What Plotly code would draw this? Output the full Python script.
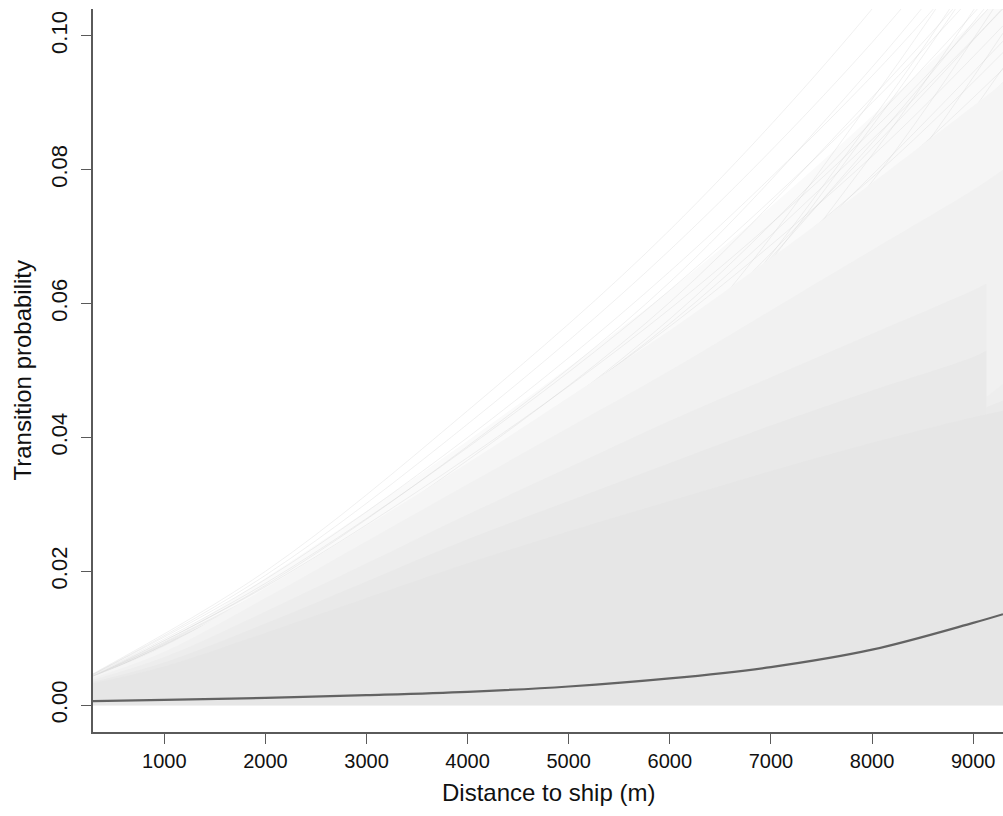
import plotly.graph_objects as go

# Distance grid (m) on which the bands and the mean curve are given
dist = [295, 1000, 2000, 3000, 4000, 5000, 6000, 7000, 8000, 9000, 9295]

# Mean transition probability
mean_prob = [0.0006, 0.0008, 0.0011, 0.0015, 0.0020, 0.0028, 0.0040, 0.0057, 0.0083, 0.0123, 0.0136]

# Envelopes of the posterior draws, from the widest (faintest) to the core
env_outer = [0.0045, 0.0095, 0.0190, 0.0290, 0.0395, 0.0505, 0.0620, 0.0745, 0.0880, 0.1020, 0.1060]
env_wide = [0.0043, 0.0088, 0.0175, 0.0268, 0.0362, 0.0460, 0.0560, 0.0668, 0.0780, 0.0895, 0.0930]
env_upper = [0.0041, 0.0080, 0.0160, 0.0245, 0.0330, 0.0415, 0.0500, 0.0590, 0.0680, 0.0770, 0.0800]
env_core = [0.0033, 0.0058, 0.0108, 0.0160, 0.0212, 0.0260, 0.0305, 0.0350, 0.0392, 0.0430, 0.0440]

# Part of the draws stops at 9130 m, so two inner envelopes step down there
dist_cut = [295, 1000, 2000, 3000, 4000, 5000, 6000, 7000, 8000, 9000, 9130]
env_mid = [0.0038, 0.0072, 0.0140, 0.0212, 0.0285, 0.0355, 0.0425, 0.0490, 0.0555, 0.0620, 0.0630]
env_inner = [0.0035, 0.0064, 0.0122, 0.0185, 0.0248, 0.0305, 0.0362, 0.0418, 0.0470, 0.0520, 0.0530]
dist_tail = [9130, 9295]
tail_mid = [0.0460, 0.0480]
tail_inner = [0.0445, 0.0455]

# Individual posterior draws above the dense core
draw_dist = [295, 2000, 4000, 6000, 8000, 9295]
draws = [
    [0.0047, 0.0200, 0.0440, 0.0710, 0.1040, 0.1300],
    [0.0046, 0.0194, 0.0420, 0.0680, 0.0990, 0.1230],
    [0.0046, 0.0188, 0.0400, 0.0648, 0.0940, 0.1160],
    [0.0045, 0.0182, 0.0385, 0.0620, 0.0900, 0.1110],
    [0.0044, 0.0177, 0.0370, 0.0592, 0.0858, 0.1065],
    [0.0043, 0.0172, 0.0357, 0.0566, 0.0820, 0.1015],
    [0.0043, 0.0166, 0.0343, 0.0545, 0.0788, 0.0975],
    [0.0042, 0.0160, 0.0328, 0.0520, 0.0752, 0.0930],
    [0.0041, 0.0155, 0.0314, 0.0498, 0.0720, 0.0892],
    [0.0040, 0.0150, 0.0302, 0.0478, 0.0690, 0.0855],
    [0.0040, 0.0146, 0.0292, 0.0462, 0.0665, 0.0822],
    [0.0039, 0.0142, 0.0282, 0.0447, 0.0642, 0.0792],
    [0.0038, 0.0122, 0.0282, 0.0522, 0.0905, 0.1190],
    [0.0037, 0.0113, 0.0262, 0.0492, 0.0865, 0.1145],
    [0.0036, 0.0106, 0.0242, 0.0458, 0.0822, 0.1105],
    [0.0036, 0.0101, 0.0226, 0.0432, 0.0782, 0.1062],
    [0.0035, 0.0098, 0.0216, 0.0408, 0.0732, 0.1004],
    [0.0035, 0.0095, 0.0206, 0.0387, 0.0692, 0.0952],
    [0.0034, 0.0092, 0.0199, 0.0372, 0.0656, 0.0902],
    [0.0040, 0.0161, 0.0347, 0.0577, 0.0872, 0.1082],
    [0.0041, 0.0168, 0.0366, 0.0602, 0.0908, 0.1124],
    [0.0043, 0.0179, 0.0387, 0.0632, 0.0953, 0.1192],
    [0.0039, 0.0141, 0.0311, 0.0532, 0.0832, 0.1042],
    [0.0038, 0.0136, 0.0296, 0.0507, 0.0792, 0.0992],
    [0.0042, 0.0170, 0.0352, 0.0570, 0.0845, 0.1040],
    [0.0041, 0.0164, 0.0336, 0.0534, 0.0770, 0.0950],
    [0.0037, 0.0128, 0.0288, 0.0515, 0.0840, 0.1075],
    [0.0036, 0.0118, 0.0272, 0.0500, 0.0875, 0.1160],
]

x_ticks = [1000, 2000, 3000, 4000, 5000, 6000, 7000, 8000, 9000]
y_ticks = [0.00, 0.02, 0.04, 0.06, 0.08, 0.10]

fig = go.Figure()


def band(x, y, color):
    fig.add_trace(go.Scatter(
        x=x, y=y, mode="lines", line=dict(width=0, shape="spline", smoothing=1.0),
        fill="tozeroy", fillcolor=color, hoverinfo="skip", showlegend=False))


band(dist, env_outer, "#FAFAFA")

for d in draws:
    fig.add_trace(go.Scatter(
        x=draw_dist, y=d, mode="lines",
        line=dict(color="rgba(205,205,205,0.3)", width=1, shape="spline", smoothing=1.0),
        hoverinfo="skip", showlegend=False))

band(dist, env_wide, "#F5F5F5")
band(dist, env_upper, "#F1F1F1")
band(dist_cut, env_mid, "#EDEDED")
band(dist_tail, tail_mid, "#EEEEEE")
band(dist_cut, env_inner, "#E9E9E9")
band(dist_tail, tail_inner, "#EAEAEA")
band(dist, env_core, "#E6E6E6")

fig.add_trace(go.Scatter(
    x=dist, y=mean_prob, mode="lines",
    line=dict(color="#636363", width=2.2, shape="spline", smoothing=1.0),
    hoverinfo="skip", showlegend=False))

axis_color = "#5a5a5a"
fig.update_layout(
    width=1003, height=816,
    margin=dict(l=93, r=0, t=9, b=84),
    paper_bgcolor="white", plot_bgcolor="white",
    font=dict(family="Liberation Sans, Arial, sans-serif", color="#111111"),
    xaxis=dict(
        range=[295, 9295], tickvals=x_ticks, ticktext=[str(v) for v in x_ticks],
        showgrid=False, zeroline=False, showline=True, linecolor=axis_color, linewidth=1.6,
        ticks="outside", ticklen=10, tickwidth=1.3, tickcolor=axis_color,
        tickfont=dict(size=20), fixedrange=True),
    yaxis=dict(
        range=[-0.004, 0.104], tickvals=y_ticks, ticktext=[f"{v:.2f}" for v in y_ticks],
        showgrid=False, zeroline=False, showline=True, linecolor=axis_color, linewidth=1.6,
        ticks="outside", ticklen=10, tickwidth=1.3, tickcolor=axis_color,
        tickangle=-90, tickfont=dict(size=22), ticklabelstandoff=5, fixedrange=True),
    annotations=[
        dict(text="Distance to ship (m)", xref="paper", yref="paper",
             x=0.5, y=-0.083, xanchor="center", yanchor="middle",
             showarrow=False, font=dict(size=24)),
        dict(text="Transition probability", xref="paper", yref="paper",
             x=-0.078, y=0.5, xanchor="center", yanchor="middle", textangle=-90,
             showarrow=False, font=dict(size=24)),
    ],
)

fig.write_html("out.html")
